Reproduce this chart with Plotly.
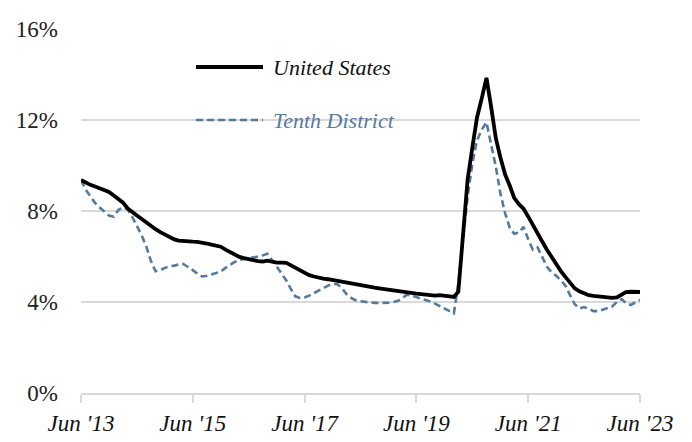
import pandas as pd
import plotly.graph_objects as go

# Monthly data, Jun 2013 - Jun 2023 (percent)
months = pd.date_range("2013-06-01", "2023-06-01", freq="MS")

united_states = [
    9.36, 9.25, 9.15, 9.08, 9.00, 8.93, 8.84, 8.68, 8.50, 8.38,
    8.12, 7.95, 7.80, 7.66, 7.50, 7.33, 7.20, 7.07, 6.95, 6.84,
    6.75, 6.70, 6.67, 6.65, 6.65, 6.64, 6.62, 6.57, 6.52, 6.47,
    6.43, 6.30, 6.18, 6.08, 5.98, 5.93, 5.87, 5.84, 5.80, 5.78,
    5.82, 5.77, 5.73, 5.73, 5.72, 5.62, 5.50, 5.38, 5.27, 5.18,
    5.12, 5.06, 5.03, 5.00, 4.96, 4.94, 4.90, 4.85, 4.82, 4.80,
    4.75, 4.70, 4.67, 4.63, 4.60, 4.57, 4.52, 4.48, 4.46, 4.42,
    4.40, 4.38, 4.37, 4.35, 4.32, 4.30, 4.28, 4.30, 4.28, 4.24,
    4.22, 4.45, 7.10, 9.40, 10.80, 12.10, 12.95, 13.85, 12.60, 11.20,
    10.35, 9.60, 9.10, 8.58, 8.30, 8.10, 7.75, 7.37, 7.00, 6.65,
    6.30, 5.97, 5.63, 5.35, 5.08, 4.83, 4.60, 4.47, 4.37, 4.30,
    4.27, 4.24, 4.22, 4.20, 4.18, 4.20, 4.32, 4.43, 4.45, 4.45,
    4.44,
]

tenth_district = [
    9.36, 8.95, 8.65, 8.35, 8.15, 7.95, 7.80, 7.75, 8.05, 8.15,
    8.08, 7.75, 7.35, 6.95, 6.45, 5.80, 5.35, 5.40, 5.50, 5.57,
    5.60, 5.65, 5.67, 5.55, 5.40, 5.25, 5.12, 5.15, 5.22, 5.28,
    5.33, 5.50, 5.65, 5.76, 5.85, 5.90, 5.93, 5.96, 6.00, 6.05,
    6.12, 5.85, 5.55, 5.25, 4.95, 4.60, 4.25, 4.18, 4.20, 4.28,
    4.40, 4.52, 4.62, 4.72, 4.80, 4.78, 4.60, 4.35, 4.18, 4.07,
    4.03, 4.00, 3.98, 3.96, 3.96, 3.96, 3.97, 4.00, 4.05, 4.18,
    4.32, 4.28, 4.22, 4.16, 4.08, 4.02, 3.93, 3.83, 3.72, 3.62,
    3.50, 4.80, 6.80, 8.64, 10.10, 11.10, 11.57, 11.90, 10.93, 9.95,
    8.77, 7.90, 7.25, 7.00, 7.05, 7.30, 6.75, 6.30, 6.40, 6.00,
    5.55, 5.30, 5.15, 4.95, 4.70, 4.30, 3.90, 3.72, 3.78, 3.70,
    3.60, 3.60, 3.67, 3.72, 3.80, 4.00, 4.13, 3.95, 3.87, 3.98,
    4.09,
]

x_tick_dates = ["2013-06-01", "2015-06-01", "2017-06-01", "2019-06-01", "2021-06-01", "2023-06-01"]
x_tick_labels = ["Jun '13", "Jun '15", "Jun '17", "Jun '19", "Jun '21", "Jun '23"]
y_tick_values = [0, 4, 8, 12, 16]
y_tick_labels = ["0%", "4%", "8%", "12%", "16%"]

US_COLOR = "#000000"
TD_COLOR = "#557a9e"
GRID = "#d9d9d9"
FONT = "Liberation Serif"

fig = go.Figure()
fig.add_trace(go.Scatter(
    x=months, y=tenth_district, mode="lines", name="Tenth District",
    line=dict(color=TD_COLOR, width=2.6, dash="7px,4px"),
))
fig.add_trace(go.Scatter(
    x=months, y=united_states, mode="lines", name="United States",
    line=dict(color=US_COLOR, width=3.8),
))

# Legend drawn in place (inside plot)
fig.add_shape(type="line", xref="paper", yref="paper",
              x0=0.2057, x1=0.3256, y0=0.8956, y1=0.8956,
              line=dict(color=US_COLOR, width=3.8))
fig.add_shape(type="line", xref="paper", yref="paper",
              x0=0.2057, x1=0.3256, y0=0.75, y1=0.75,
              line=dict(color=TD_COLOR, width=2.6, dash="7px,4px"))
fig.add_annotation(xref="paper", yref="paper", x=0.339, y=0.8956,
                   text="<i>United States</i>", showarrow=False,
                   xanchor="left", yanchor="middle",
                   font=dict(family=FONT, size=22, color="#111111"))
fig.add_annotation(xref="paper", yref="paper", x=0.339, y=0.75,
                   text="<i>Tenth District</i>", showarrow=False,
                   xanchor="left", yanchor="middle",
                   font=dict(family=FONT, size=22, color=TD_COLOR))

# page body has an 8px margin, so the figure is sized to fit the 692x442 window
fig.update_layout(
    width=684, height=434,
    margin=dict(l=73, r=52, t=21, b=49),
    paper_bgcolor="white", plot_bgcolor="white",
    showlegend=False,
    font=dict(family=FONT, size=23, color="#222222"),
)
fig.update_xaxes(
    range=["2013-06-01", "2023-06-01"], automargin=False,
    tickmode="array", tickvals=x_tick_dates, ticktext=x_tick_labels,
    tickfont=dict(family=FONT, size=23, style="italic", color="#111111"),
    showgrid=False, zeroline=False,
    showline=True, linecolor=GRID, linewidth=2,
    ticks="outside", ticklen=8, tickwidth=1.5, tickcolor=GRID,
)
fig.update_yaxes(
    range=[0, 16], automargin=False,
    tickmode="array", tickvals=y_tick_values, ticktext=y_tick_labels,
    tickfont=dict(family=FONT, size=23, color="#222222"),
    showgrid=True, gridcolor=GRID, gridwidth=2,
    zeroline=False, showline=False, ticks="",
    ticklabelstandoff=22,
)

fig.write_html("out.html")
